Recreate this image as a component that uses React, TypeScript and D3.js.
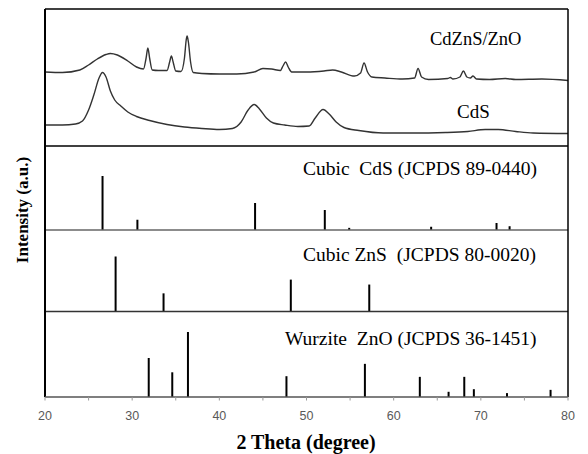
import React from "react";
import * as d3 from "d3";

// measured XRD traces, [2theta, intensity a.u.]
const cdznsZno: [number, number][] = [
  [20, 74], [22, 73.5], [24, 76], [25, 81], [26, 87], [27, 91.5], [27.5, 92.5], [28.3, 91],
  [29.5, 85], [30.5, 79], [31.3, 77], [31.6, 88], [31.8, 98], [32.0, 88], [32.3, 76],
  [33, 75.5], [34.0, 75.5], [34.3, 84], [34.5, 90], [34.7, 84], [35.0, 75], [35.6, 74.5],
  [36.0, 88], [36.2, 106], [36.3, 110], [36.45, 104], [36.7, 84], [37.0, 73.5], [38, 72.5],
  [40, 72], [42, 72], [44, 74], [45, 77.5], [46, 77], [47.0, 75.5], [47.3, 80], [47.6, 84],
  [47.9, 79], [48.3, 74], [50, 74], [52, 75], [53, 76], [54, 74], [55.5, 70], [56.2, 73],
  [56.6, 83], [57.0, 74], [57.5, 69], [59, 68], [61, 67], [62.4, 68], [62.8, 77.5], [63.2, 69],
  [64, 66.5], [66.2, 67.5], [66.5, 68.5], [66.8, 67], [67.6, 69], [68.0, 75], [68.4, 69],
  [68.8, 68], [69.1, 70], [69.5, 67], [71, 66.5], [72.8, 67.5], [74, 66.5], [77, 67], [80, 65.5],
];

const cds: [number, number][] = [
  [20, 21], [22, 21], [23.5, 22], [24.3, 25], [25.0, 36], [25.6, 51], [26.2, 68], [26.6, 73.5],
  [27.0, 69], [27.5, 55], [28.0, 46], [28.7, 40], [29.5, 34], [30.5, 29.5], [32, 25.5],
  [34, 21.5], [36, 19], [38, 17.5], [40, 16.5], [41.5, 17.5], [42.5, 24], [43.3, 36],
  [44.0, 41.5], [44.6, 37], [45.4, 28], [46.2, 23], [47.5, 21], [49, 19.5], [50.3, 20],
  [51.0, 28], [51.9, 36.5], [52.6, 32], [53.4, 24], [54.3, 18.5], [56, 15.5], [58.8, 13],
  [62, 13], [66, 13.5], [68.5, 14.5], [70.5, 16.5], [72, 16.5], [74, 14.5], [76, 13], [80, 12.5],
];

// reference patterns: positions and relative intensities
const cubicCdsPos = [26.6, 30.6, 44.1, 52.1, 54.9, 64.3, 71.8, 73.3];
const cubicCdsInt = [100, 19, 50, 37, 4, 6, 13, 7];
const cubicZnsPos = [28.1, 33.6, 48.2, 57.2];
const cubicZnsInt = [100, 33, 58, 49];
const znoPos = [31.9, 34.6, 36.4, 47.7, 56.7, 63.0, 66.3, 68.1, 69.2, 73.0, 78.0];
const znoInt = [60, 38, 100, 32, 51, 31, 8, 31, 12, 6, 11];

const xTicks = [20, 30, 40, 50, 60, 70, 80];
const minorTicks = d3.range(20, 81, 5);

const serif = "'Liberation Serif', 'Times New Roman', serif";
const pre = { whiteSpace: "pre" as const };

export default function App() {
  const x = d3.scaleLinear().domain([20, 80]).range([45, 568]);
  const top = 9, sep1 = 146, sep2 = 230, sep3 = 311.5, bottom = 397;

  const yTop = d3.scaleLinear().domain([0, 137]).range([sep1, top]);
  const line = d3.line<[number, number]>()
    .x(d => x(d[0]))
    .y(d => yTop(d[1]))
    .curve(d3.curveMonotoneX);

  const panels = [
    { pos: cubicCdsPos, val: cubicCdsInt, base: sep2, h: 54 },
    { pos: cubicZnsPos, val: cubicZnsInt, base: sep3, h: 55 },
    { pos: znoPos, val: znoInt, base: bottom, h: 65 },
  ];

  return (
    <svg width={588} height={454} style={{ position: "absolute", left: 0, top: 0, background: "#fff" }}>
      <rect x={0} y={0} width={588} height={454} fill="#fff" />
      {/* top panel curves */}
      <path d={line(cdznsZno) || ""} fill="none" stroke="#333" strokeWidth={1.4} />
      <path d={line(cds) || ""} fill="none" stroke="#333" strokeWidth={1.4} />

      {/* stick patterns */}
      {panels.map((p, k) => {
        const y = d3.scaleLinear().domain([0, 100]).range([p.base, p.base - p.h]);
        return (
          <g key={k}>
            {p.pos.map((t, i) => (
              <line key={i} x1={x(t)} x2={x(t)} y1={y(0)} y2={y(p.val[i])} stroke="#000" strokeWidth={2} />
            ))}
          </g>
        );
      })}

      {/* panel separators */}
      <line x1={45} x2={568} y1={sep1} y2={sep1} stroke="#000" strokeWidth={1.5} />
      <line x1={45} x2={568} y1={sep2} y2={sep2} stroke="#666" strokeWidth={1.5} />
      <line x1={45} x2={568} y1={sep3} y2={sep3} stroke="#333" strokeWidth={1.5} />

      {/* frame */}
      <line x1={45} x2={568} y1={top} y2={top} stroke="#000" strokeWidth={1.5} />
      <line x1={568} x2={568} y1={top} y2={bottom} stroke="#000" strokeWidth={1.5} />
      <line x1={45} x2={45} y1={top} y2={bottom} stroke="#000" strokeWidth={2} />
      <line x1={45} x2={568} y1={bottom} y2={bottom} stroke="#555" strokeWidth={1.5} />

      {/* x axis ticks */}
      {minorTicks.map(t => (
        <line key={t} x1={x(t)} x2={x(t)} y1={bottom} y2={bottom + 3.5} stroke="#999" strokeWidth={1} />
      ))}
      {xTicks.map(t => (
        <text key={t} x={x(t)} y={420} textAnchor="middle" fontFamily="'Liberation Sans', Arial, sans-serif"
          fontSize={12.5} fill="#595959">{t}</text>
      ))}

      {/* labels */}
      <g fontFamily={serif} fill="#000">
        <text x={430} y={45} fontSize={18.5}>CdZnS/ZnO</text>
        <text x={457} y={118} fontSize={19}>CdS</text>
        <g fontSize={19.5}>
          <text x={303} y={175} style={pre}>Cubic  CdS (JCPDS 89-0440)</text>
          <text x={303} y={261} style={pre}>Cubic ZnS  (JCPDS 80-0020)</text>
          <text x={285} y={345} style={pre}>Wurzite  ZnO (JCPDS 36-1451)</text>
        </g>
      </g>

      <text x={306} y={449} textAnchor="middle" fontFamily={serif} fontWeight="bold" fontSize={20}>2 Theta (degree)</text>
      <text transform="translate(28,210) rotate(-90)" textAnchor="middle" fontFamily={serif} fontWeight="bold"
        fontSize={17}>Intensity (a.u.)</text>
    </svg>
  );
}
